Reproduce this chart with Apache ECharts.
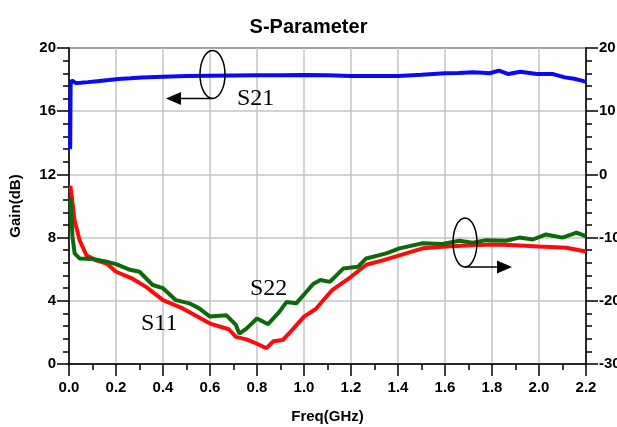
<!DOCTYPE html>
<html>
<head>
<meta charset="utf-8">
<script src="https://cdn.jsdelivr.net/npm/echarts@6/dist/echarts.min.js"></script>
<style>
html,body{margin:0;padding:0;background:#fff;}
#chart{width:617px;height:427px;}
</style>
</head>
<body>
<div id="chart"></div>
<script>
// S21 (left axis, dB)
var freqS21 = [0.005, 0.007, 0.012, 0.02, 0.03, 0.05, 0.08, 0.12, 0.17, 0.21, 0.26, 0.31, 0.4, 0.5, 0.6, 0.7, 0.8, 0.9, 1.0, 1.1, 1.2, 1.3, 1.4, 1.5, 1.6, 1.66, 1.72, 1.76, 1.79, 1.83, 1.87, 1.92, 1.96, 1.99, 2.06, 2.11, 2.15, 2.19, 2.2];
var s21 = [13.6, 17.7, 17.95, 17.9, 17.78, 17.8, 17.84, 17.9, 17.97, 18.04, 18.08, 18.14, 18.18, 18.22, 18.25, 18.26, 18.27, 18.28, 18.29, 18.27, 18.23, 18.22, 18.23, 18.3, 18.4, 18.42, 18.46, 18.44, 18.4, 18.57, 18.35, 18.5, 18.42, 18.35, 18.35, 18.14, 18.05, 17.9, 17.87];

// S11 (right axis, dB)
var freqS11 = [0.006, 0.024, 0.045, 0.074, 0.116, 0.16, 0.2, 0.27, 0.328, 0.4, 0.484, 0.6, 0.68, 0.71, 0.755, 0.8, 0.84, 0.87, 0.91, 0.95, 1.0, 1.05, 1.12, 1.2, 1.265, 1.335, 1.406, 1.505, 1.604, 1.718, 1.8, 1.9, 2.0, 2.116, 2.2];
var s11 = [-1.8, -7.3, -10.4, -12.8, -13.6, -14.1, -15.4, -16.5, -17.8, -19.9, -21.2, -23.6, -24.5, -25.7, -26.1, -26.8, -27.5, -26.4, -26.2, -24.6, -22.5, -21.3, -18.3, -16.2, -14.3, -13.6, -12.8, -11.7, -11.4, -11.2, -11.1, -11.2, -11.4, -11.6, -12.2];

// S22 (right axis, dB)
var freqS22 = [0.006, 0.015, 0.024, 0.045, 0.1, 0.16, 0.2, 0.26, 0.3, 0.356, 0.4, 0.455, 0.512, 0.554, 0.6, 0.67, 0.71, 0.725, 0.755, 0.8, 0.847, 0.896, 0.925, 0.967, 1.04, 1.07, 1.11, 1.167, 1.23, 1.265, 1.35, 1.406, 1.505, 1.59, 1.66, 1.718, 1.775, 1.86, 1.917, 1.974, 2.03, 2.1, 2.16, 2.2];
var s22 = [-3.8, -9.9, -12.5, -13.3, -13.4, -13.8, -14.2, -15.1, -15.4, -17.5, -18.0, -19.9, -20.4, -21.2, -22.5, -22.3, -23.8, -25.2, -24.4, -22.8, -23.7, -21.7, -20.2, -20.4, -17.3, -16.7, -17.0, -14.9, -14.6, -13.3, -12.5, -11.7, -10.9, -11.0, -10.5, -10.8, -10.4, -10.5, -10.0, -10.3, -9.5, -10.0, -9.2, -9.8];

function pairs(xs, ys) {
    var out = [];
    for (var i = 0; i < xs.length; i++) out.push([xs[i], ys[i]]);
    return out;
}

var chart = echarts.init(document.getElementById('chart'));

var labelFont = {color: '#000', fontFamily: 'Arial, Liberation Sans', fontWeight: 'bold', fontSize: 15};

var option = {
    animation: false,
    title: {
        text: 'S-Parameter',
        left: 'center',
        top: 12,
        textStyle: {fontFamily: 'Arial, Liberation Sans', fontWeight: 'bold', fontSize: 20, color: '#000'}
    },
    grid: {left: 69, right: 31, top: 48, bottom: 63, outerBoundsMode: 'none', containLabel: false,
        show: true, borderColor: '#000', borderWidth: 1.5},
    xAxis: {
        type: 'value',
        min: 0, max: 2.2, interval: 0.2,
        name: 'Freq(GHz)',
        nameLocation: 'middle',
        nameGap: 45,
        nameTextStyle: labelFont,
        axisLine: {lineStyle: {color: '#000', width: 1.5}},
        axisTick: {length: 12, lineStyle: {color: '#000', width: 1.5}},
        minorTick: {show: true, splitNumber: 2, length: 6, lineStyle: {color: '#000', width: 1.5}},
        axisLabel: Object.assign({margin: 16, formatter: function (v) { return v.toFixed(1); }}, labelFont),
        splitLine: {lineStyle: {color: '#c4c4c4', width: 1.5}}
    },
    yAxis: [{
        type: 'value',
        min: 0, max: 20, interval: 4,
        name: 'Gain(dB)',
        nameLocation: 'middle',
        nameGap: 46,
        nameTextStyle: labelFont,
        axisLine: {show: true, lineStyle: {color: '#000', width: 1.5}},
        axisTick: {show: true, length: 12, lineStyle: {color: '#000', width: 1.5}},
        minorTick: {show: true, splitNumber: 5, length: 6, lineStyle: {color: '#000', width: 1.5}},
        axisLabel: Object.assign({margin: 13}, labelFont),
        splitLine: {lineStyle: {color: '#c4c4c4', width: 1.5}}
    }, {
        type: 'value',
        position: 'right',
        min: -30, max: 20, interval: 10,
        axisLine: {show: true, lineStyle: {color: '#000', width: 1.5}},
        axisTick: {show: true, length: 12, lineStyle: {color: '#000', width: 1.5}},
        minorTick: {show: true, splitNumber: 5, length: 6, lineStyle: {color: '#000', width: 1.5}},
        axisLabel: Object.assign({margin: 13, hideOverlap: false}, labelFont),
        splitLine: {show: false}
    }],
    series: [
        {
            name: 'S21', type: 'line', yAxisIndex: 0, showSymbol: false,
            lineStyle: {color: '#0a0af5', width: 4},
            data: pairs(freqS21, s21)
        },
        {
            name: 'S11', type: 'line', yAxisIndex: 1, showSymbol: false,
            lineStyle: {color: '#ff0a0a', width: 4},
            data: pairs(freqS11, s11)
        },
        {
            name: 'S22', type: 'line', yAxisIndex: 1, showSymbol: false,
            lineStyle: {color: '#0b6b0b', width: 4},
            data: pairs(freqS22, s22)
        }
    ],
    graphic: [
        // S21 marker, arrow to the left axis
        {type: 'ellipse', shape: {cx: 212.5, cy: 74.5, rx: 12.5, ry: 24}, style: {fill: 'none', stroke: '#000', lineWidth: 1.5}, z: 100},
        {type: 'line', shape: {x1: 212.5, y1: 98.5, x2: 180, y2: 98.5}, style: {stroke: '#000', lineWidth: 1.5}, z: 100},
        {type: 'polygon', shape: {points: [[166, 98.5], [181, 92], [181, 105]]}, style: {fill: '#000'}, z: 100},
        {type: 'text', left: 237, top: 87, style: {text: 'S21', font: '24px "Liberation Serif", "Times New Roman", serif', fill: '#000'}, z: 100},
        // S11 / S22 marker, arrow to the right axis
        {type: 'ellipse', shape: {cx: 465, cy: 242.5, rx: 12, ry: 24.5}, style: {fill: 'none', stroke: '#000', lineWidth: 1.5}, z: 100},
        {type: 'line', shape: {x1: 465, y1: 267, x2: 498, y2: 267}, style: {stroke: '#000', lineWidth: 1.5}, z: 100},
        {type: 'polygon', shape: {points: [[512, 267], [497, 260.5], [497, 273.5]]}, style: {fill: '#000'}, z: 100},
        {type: 'text', left: 250, top: 277, style: {text: 'S22', font: '24px "Liberation Serif", "Times New Roman", serif', fill: '#000'}, z: 100},
        {type: 'text', left: 141, top: 312, style: {text: 'S11', font: '24px "Liberation Serif", "Times New Roman", serif', fill: '#000'}, z: 100}
    ]
};

chart.setOption(option);
</script>
</body>
</html>
